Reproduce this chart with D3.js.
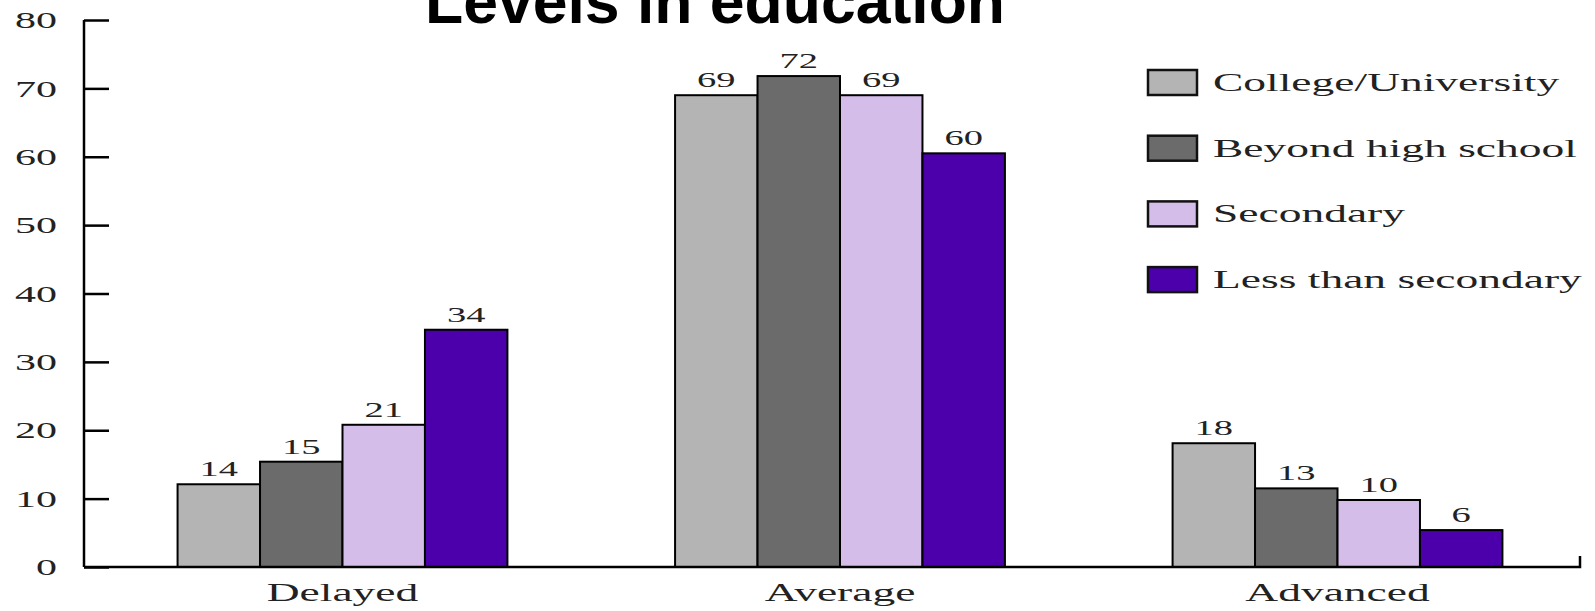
<!DOCTYPE html>
<html>
<head>
<meta charset="utf-8">
<script src="https://cdn.jsdelivr.net/npm/d3@7"></script>
<style>
  body { margin: 0; background: #fff; }
  text { font-family: "Liberation Serif", "Times New Roman", serif; fill: #222; }
  .title { font-family: "Liberation Sans", Arial, sans-serif; font-weight: bold; fill: #000; }
</style>
</head>
<body>
<svg id="main"></svg>
<script>
// values (bar heights) and the numbers printed above them
var categories = ["Delayed", "Average", "Advanced"];
var seriesNames = ["College/University", "Beyond high school", "Secondary", "Less than secondary"];
var seriesColors = ["#b4b4b4", "#6b6b6b", "#d4bee9", "#4c00ac"];

var collegeValues = [12.1, 69.0, 18.1];
var beyondValues = [15.4, 71.8, 11.5];
var secondaryValues = [20.8, 69.0, 9.8];
var lessValues = [34.7, 60.5, 5.4];

var collegeLabels = ["14", "69", "18"];
var beyondLabels = ["15", "72", "13"];
var secondaryLabels = ["21", "69", "10"];
var lessLabels = ["34", "60", "6"];

var yTicks = [0, 10, 20, 30, 40, 50, 60, 70, 80];

var svgW = 1595, svgH = 611;
var stretch = 1.75; // the source image is stretched sideways, so is its text

function stretchText(sel, x, y) {
  sel.attr("x", 0).attr("y", 0)
    .attr("transform", "translate(" + x + "," + y + ") scale(" + stretch + ",1)");
}

function draw() {
  var s = d3.select("#main").attr("width", svgW).attr("height", svgH);

  var allValues = [collegeValues, beyondValues, secondaryValues, lessValues];
  var allLabels = [collegeLabels, beyondLabels, secondaryLabels, lessLabels];

  var y = d3.scaleLinear().domain([0, 80]).range([567, 20]);
  var x0 = d3.scaleBand().domain(categories).range([92, 1588])
    .paddingInner(0.337).paddingOuter(0.172);
  var x1 = d3.scaleBand().domain(seriesNames).range([0, x0.bandwidth()]);

  // title, cut at the top like the original
  s.append("text").attr("class", "title")
    .attr("x", 715).attr("y", 23)
    .attr("text-anchor", "middle")
    .style("font-size", "62.5px")
    .text("Levels in education");

  // bars
  var groups = s.append("g").selectAll("g")
    .data(categories).enter()
    .append("g")
    .attr("transform", function(d) { return "translate(" + x0(d) + ",0)"; });

  groups.selectAll("rect")
    .data(function(d, ci) {
      return seriesNames.map(function(n, si) {
        return { name: n, value: allValues[si][ci], label: allLabels[si][ci], color: seriesColors[si] };
      });
    }).enter()
    .append("rect")
    .attr("x", function(d) { return x1(d.name); })
    .attr("y", function(d) { return y(d.value); })
    .attr("width", x1.bandwidth())
    .attr("height", function(d) { return y(0) - y(d.value); })
    .attr("fill", function(d) { return d.color; })
    .attr("stroke", "#000")
    .attr("stroke-width", 2);

  groups.selectAll("text.val")
    .data(function(d, ci) {
      return seriesNames.map(function(n, si) {
        return { name: n, value: allValues[si][ci], label: allLabels[si][ci] };
      });
    }).enter()
    .append("text").attr("class", "val")
    .attr("text-anchor", "middle")
    .style("font-size", "22px")
    .text(function(d) { return d.label; })
    .each(function(d) {
      stretchText(d3.select(this), x1(d.name) + x1.bandwidth() / 2, y(d.value) - 8);
    });

  // y axis, ticks pointing into the plot
  var yAxis = s.append("g")
    .attr("transform", "translate(84,0)")
    .call(d3.axisLeft(y).tickValues(yTicks).tickSize(-25).tickPadding(27));
  yAxis.select(".domain").attr("stroke", "#000").attr("stroke-width", 2.5)
    .attr("d", "M0," + y(80) + "V" + y(0));
  yAxis.selectAll(".tick line").attr("stroke", "#000").attr("stroke-width", 2.5);
  yAxis.selectAll(".tick text")
    .attr("dy", "0.32em")
    .style("font-size", "24px")
    .style("font-family", "Liberation Serif, serif")
    .attr("fill", "#222")
    .each(function() {
      stretchText(d3.select(this), -27, 0);
    });

  // x axis line with the small end tick
  s.append("path")
    .attr("d", "M84," + y(0) + "H1580V" + (y(0) - 11))
    .attr("fill", "none").attr("stroke", "#000").attr("stroke-width", 2.5);

  s.append("g").selectAll("text")
    .data(categories).enter()
    .append("text")
    .attr("text-anchor", "middle")
    .style("font-size", "26px")
    .text(function(d) { return d; })
    .each(function(d) {
      stretchText(d3.select(this), x0(d) + x0.bandwidth() / 2, 601);
    });

  // legend
  var leg = s.append("g").selectAll("g")
    .data(seriesNames).enter()
    .append("g")
    .attr("transform", function(d, i) { return "translate(1148," + (70 + i * 65.7) + ")"; });

  leg.append("rect")
    .attr("width", 49).attr("height", 25)
    .attr("fill", function(d, i) { return seriesColors[i]; })
    .attr("stroke", "#111").attr("stroke-width", 2.5);

  leg.append("text")
    .style("font-size", "26px")
    .text(function(d) { return d; })
    .each(function() {
      stretchText(d3.select(this), 65, 21);
    });
}

draw();
</script>
</body>
</html>
